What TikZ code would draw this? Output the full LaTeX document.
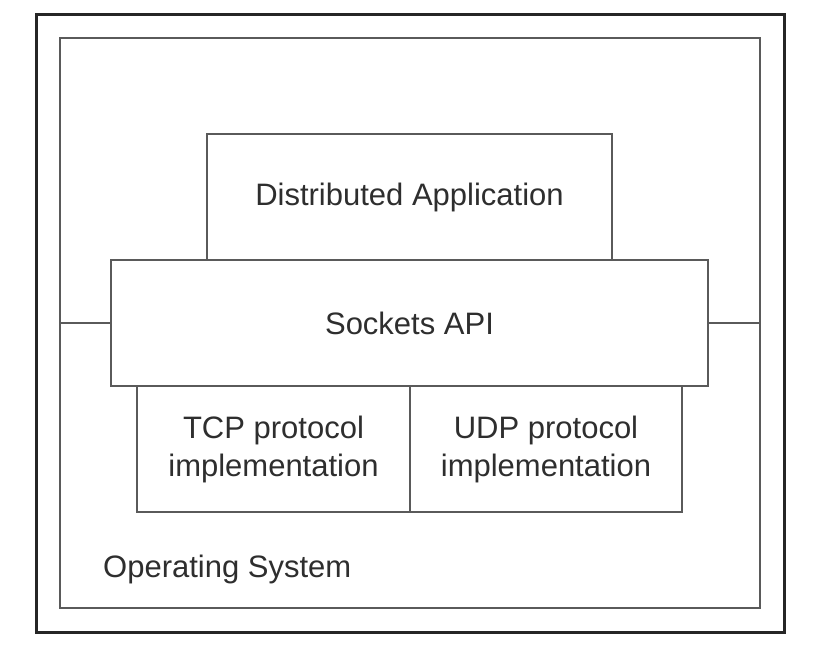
\documentclass[tikz,border=0pt]{standalone}
\usepackage{fontspec}
\setmainfont{Liberation Sans}
\definecolor{linegray}{HTML}{5A5A5A}
\definecolor{txtgray}{HTML}{2E2E2E}
\begin{document}
\begin{tikzpicture}[x=1pt,y=-1pt,
  layerbox/.style={draw=linegray,line width=2pt,inner sep=0pt,align=center,
    text=txtgray,font=\fontsize{31}{38}\selectfont},
  link/.style={draw=linegray,line width=2pt}]
\useasboundingbox[fill=white] (0,0) rectangle (830,645);
\node[draw=black!85,line width=3pt,minimum width=748pt,minimum height=618pt,inner sep=0pt] (outer) at (410,323) {};
\node[draw=linegray,line width=2pt,minimum width=700pt,minimum height=570pt,inner sep=0pt] (os) at (410,323) {};
\node[layerbox,minimum width=405pt,minimum height=126pt] (da) at (409.5,197) {Distributed Application};
\node[layerbox,fill=white,minimum width=597pt,minimum height=126pt] (api) at (409.5,323) {Sockets API};
\node[layerbox,minimum width=273pt,minimum height=126pt] (tcp) at (273.5,449) {TCP protocol\\implementation};
\node[layerbox,minimum width=272pt,minimum height=126pt] (udp) at (546,449) {UDP protocol\\implementation};
\node[anchor=base west,inner sep=0pt,text=txtgray,font=\fontsize{31}{38}\selectfont] (oslabel) at (103,577) {Operating System};
\draw[link] (os.west) -- (api.west);
\draw[link] (api.east) -- (os.east);
\end{tikzpicture}
\end{document}
